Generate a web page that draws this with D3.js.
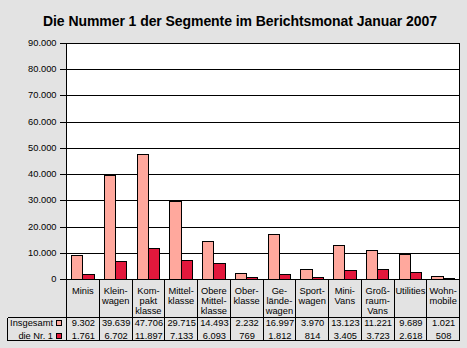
<!DOCTYPE html>
<html>
<head>
<meta charset="utf-8">
<script src="https://cdn.jsdelivr.net/npm/d3@7"></script>
<style>
  html, body { margin: 0; padding: 0; background: #e3e3e3; }
  svg { display: block; }
  text { font-family: "Liberation Sans", Arial, sans-serif; fill: #000; }
</style>
</head>
<body>
<svg id="chart" width="467" height="348"></svg>
<script>
// Segment names, split into the lines printed under each column
const categories = [
  ["Minis"],
  ["Klein-", "wagen"],
  ["Kom-", "pakt", "klasse"],
  ["Mittel-", "klasse"],
  ["Obere", "Mittel-", "klasse"],
  ["Ober-", "klasse"],
  ["Ge-", "lände-", "wagen"],
  ["Sport-", "wagen"],
  ["Mini-", "Vans"],
  ["Groß-", "raum-", "Vans"],
  ["Utilities"],
  ["Wohn-", "mobile"]
];
// Registrations in the month: whole segment and its best-selling model
const insgesamt = [9302, 39639, 47706, 29715, 14493, 2232, 16997, 3970, 13123, 11221, 9689, 1021];
const nr1 = [1761, 6702, 11897, 7133, 6093, 769, 1812, 814, 3405, 3723, 2618, 508];
const seriesNames = ["Insgesamt", "die Nr. 1"];
const yTicks = [0, 10000, 20000, 30000, 40000, 50000, 60000, 70000, 80000, 90000];

const colors = ["#ffa89d", "#e3183c"];
const de = d3.formatLocale({ decimal: ",", thousands: ".", grouping: [3], currency: ["", " €"] });
const fmt = de.format(",.0f");

const svg = d3.select("#chart");
const plotLeft = 66.5, plotRight = 459.5;
const tableTop = 317.5, tableBottom = 340.5;

const keys = categories.map(c => c.join(""));
const x = d3.scaleBand().domain(keys).range([plotLeft, plotRight]).paddingInner(0).paddingOuter(0);
const x1 = d3.scaleBand().domain(seriesNames).range([0, x.bandwidth()]).paddingInner(0).paddingOuter(0.45);
const y = d3.scaleLinear().domain([0, 90000]).range([279, 43]).interpolate(d3.interpolateRound);
const zeroY = y(0) + 0.5, plotTop = y(90000) + 0.5;

// Title
svg.append("text")
  .attr("x", 240).attr("y", 26)
  .attr("text-anchor", "middle")
  .attr("font-size", 14).attr("font-weight", "bold")
  .attr("textLength", 394).attr("lengthAdjust", "spacing")
  .text("Die Nummer 1 der Segmente im Berichtsmonat Januar 2007");

// Plot area
svg.append("rect")
  .attr("x", plotLeft).attr("y", plotTop)
  .attr("width", plotRight - plotLeft).attr("height", zeroY - plotTop)
  .attr("fill", "#fff");

// Y axis with full-width gridlines
const span = plotRight - plotLeft;
const yAxis = d3.axisLeft(y).tickValues(yTicks).tickFormat(fmt)
  .tickSize(span).tickSizeOuter(0).offset(0.5);
const ya = svg.append("g")
  .attr("transform", `translate(${plotRight},0)`)
  .call(yAxis);
ya.select(".domain").remove();
ya.selectAll(".tick line").attr("stroke", "#000").attr("shape-rendering", "crispEdges");
ya.selectAll(".tick text").attr("font-size", 9.3).attr("x", -span - 10).attr("dy", "0.32em");
// short outer tick marks
ya.selectAll(".tick").append("line")
  .attr("x1", -span).attr("x2", -span - 7)
  .attr("stroke", "#000").attr("shape-rendering", "crispEdges");

// Bars
const groups = svg.append("g").selectAll("g")
  .data(keys)
  .join("g")
  .attr("transform", d => `translate(${x(d)},0)`);
groups.selectAll("rect")
  .data((d, i) => [
    { s: seriesNames[0], v: insgesamt[i] },
    { s: seriesNames[1], v: nr1[i] }
  ])
  .join("rect")
  .attr("x", d => x1(d.s))
  .attr("y", d => y(d.v) + 0.5)
  .attr("width", x1.bandwidth())
  .attr("height", d => y(0) - y(d.v))
  .attr("fill", (d, i) => colors[i])
  .attr("stroke", "#000").attr("stroke-width", 1)
  .attr("shape-rendering", "crispEdges");

// Frame lines
const frame = svg.append("g").attr("stroke", "#000").attr("shape-rendering", "crispEdges");
frame.append("line").attr("x1", plotLeft).attr("x2", plotLeft).attr("y1", plotTop).attr("y2", tableBottom);
frame.append("line").attr("x1", plotRight).attr("x2", plotRight).attr("y1", plotTop).attr("y2", tableBottom);
frame.append("line").attr("x1", plotLeft).attr("x2", plotRight).attr("y1", zeroY).attr("y2", zeroY);
// column separators below the plot
frame.selectAll(".sep").data(keys.slice(1)).join("line")
  .attr("x1", d => x(d)).attr("x2", d => x(d))
  .attr("y1", zeroY).attr("y2", tableBottom);
// data table outline
frame.append("line").attr("x1", 7.5).attr("x2", plotRight).attr("y1", tableTop).attr("y2", tableTop);
frame.append("line").attr("x1", 7.5).attr("x2", plotRight).attr("y1", tableBottom).attr("y2", tableBottom);
frame.append("line").attr("x1", 7.5).attr("x2", 7.5).attr("y1", tableTop).attr("y2", tableBottom);

// Category labels
const cat = svg.append("g").attr("font-size", 9.3).attr("text-anchor", "middle");
categories.forEach((lines, i) => {
  const cx = x(keys[i]) + x.bandwidth() / 2;
  const t = cat.append("text").attr("x", cx).attr("y", 294);
  lines.forEach((l, j) => t.append("tspan").attr("x", cx).attr("y", 294 + j * 10.2).text(l));
});

// Table rows
const rows = [insgesamt, nr1];
const rowY = [325.5, 338.5];
rows.forEach((vals, r) => {
  svg.append("text").attr("x", 53).attr("y", rowY[r]).attr("text-anchor", "end")
    .attr("font-size", 9.3).text(seriesNames[r]);
  svg.append("rect").attr("x", 56.5).attr("y", rowY[r] - 5.5).attr("width", 5).attr("height", 5)
    .attr("fill", colors[r]).attr("stroke", "#000").attr("shape-rendering", "crispEdges");
  svg.append("g").attr("font-size", 9.3).attr("text-anchor", "middle")
    .selectAll("text").data(vals).join("text")
    .attr("x", (d, i) => x(keys[i]) + x.bandwidth() / 2 + 0.5)
    .attr("y", rowY[r])
    .text(d => fmt(d));
});
</script>
</body>
</html>
